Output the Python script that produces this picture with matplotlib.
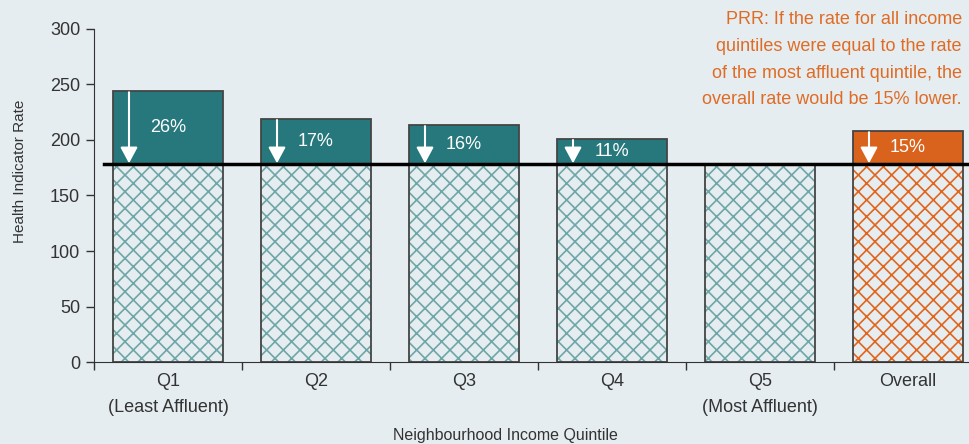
import matplotlib.pyplot as plt
import numpy as np

categories = ["Q1\n(Least Affluent)", "Q2", "Q3", "Q4", "Q5\n(Most Affluent)", "Overall"]
rates = [244, 219, 213.5, 201, 178, 208]
pct_labels = ["26%", "17%", "16%", "11%", "", "15%"]
ref_rate = 178
note = ("PRR: If the rate for all income\nquintiles were equal to the rate\n"
        "of the most affluent quintile, the\noverall rate would be 15% lower.")

bg = "#e5edf0"
teal = "#27787c"
teal_hatch = "#6fa6a8"
orange = "#d9621c"
orange_hatch = "#e2651e"
text_col = "#333333"

plt.rcParams['font.family'] = ['Liberation Sans', 'DejaVu Sans']
plt.rcParams['hatch.linewidth'] = 1.2

fig = plt.figure(figsize=(9.7, 4.44), dpi=100, facecolor=bg)
ax = fig.add_axes([94/970, 1 - 362/444, 888/970, 333/444])
ax.set_facecolor(bg)

x = np.arange(len(categories))
w = 0.743
top_cols = [teal] * 5 + [orange]
hatch_cols = [teal_hatch] * 5 + [orange_hatch]

for i in x:
    # hatched base up to the reference rate
    ax.bar(i, ref_rate, width=w, color=bg, edgecolor=hatch_cols[i], hatch='xx', lw=0)
    ax.bar(i, ref_rate, width=w, fill=False, edgecolor="#444444", lw=1.3)
    excess = rates[i] - ref_rate
    if excess > 0:
        ax.bar(i, excess, bottom=ref_rate, width=w, color=top_cols[i], edgecolor="#444444", lw=1.3)
        ax_x = i - w / 2 + 0.108
        ax.annotate("", xy=(ax_x, ref_rate + 1), xytext=(ax_x, rates[i] - 1),
                    arrowprops=dict(arrowstyle='-|>,head_length=0.65,head_width=0.35',
                                    color='white', lw=1.5, mutation_scale=15,
                                    shrinkA=0, shrinkB=0))
        ax.text(i, ref_rate + excess / 2, pct_labels[i], color='white', fontsize=13,
                ha='center', va='center')

ax.plot([-0.43, 5.6], [ref_rate, ref_rate], color='black', lw=2.5, clip_on=False, zorder=5)

ax.set_xlim(-0.5, 5.5)
ax.set_ylim(0, 300)
ax.set_yticks(range(0, 301, 50))
ax.set_xticks(x)
ax.set_xticklabels(categories, linespacing=1.65)
ax.set_xticks(np.arange(-0.5, 5.0, 1), minor=True)
ax.tick_params(axis='x', which='major', length=0, pad=8, labelsize=13, colors=text_col)
ax.tick_params(axis='x', which='minor', length=6, width=1, color='#333333')
ax.tick_params(axis='y', length=6, width=1, labelsize=13, colors=text_col, pad=4)
ax.spines['top'].set_visible(False)
ax.spines['right'].set_visible(False)
ax.spines['left'].set_color('#333333')
ax.spines['bottom'].set_color('#333333')
ax.set_ylabel("Health Indicator Rate", fontsize=11, color=text_col)
ax.yaxis.set_label_coords(-0.075, 0.574)

fig.text(505/970, 1 - 435/444, "Neighbourhood Income Quintile", fontsize=11.5,
         color=text_col, ha='center', va='center')
fig.text(962/970, 1 - 11/444, note, fontsize=13, color="#e06b25", ha='right', va='top',
         linespacing=1.75)

fig.savefig("out.png", dpi=100, facecolor=bg)
